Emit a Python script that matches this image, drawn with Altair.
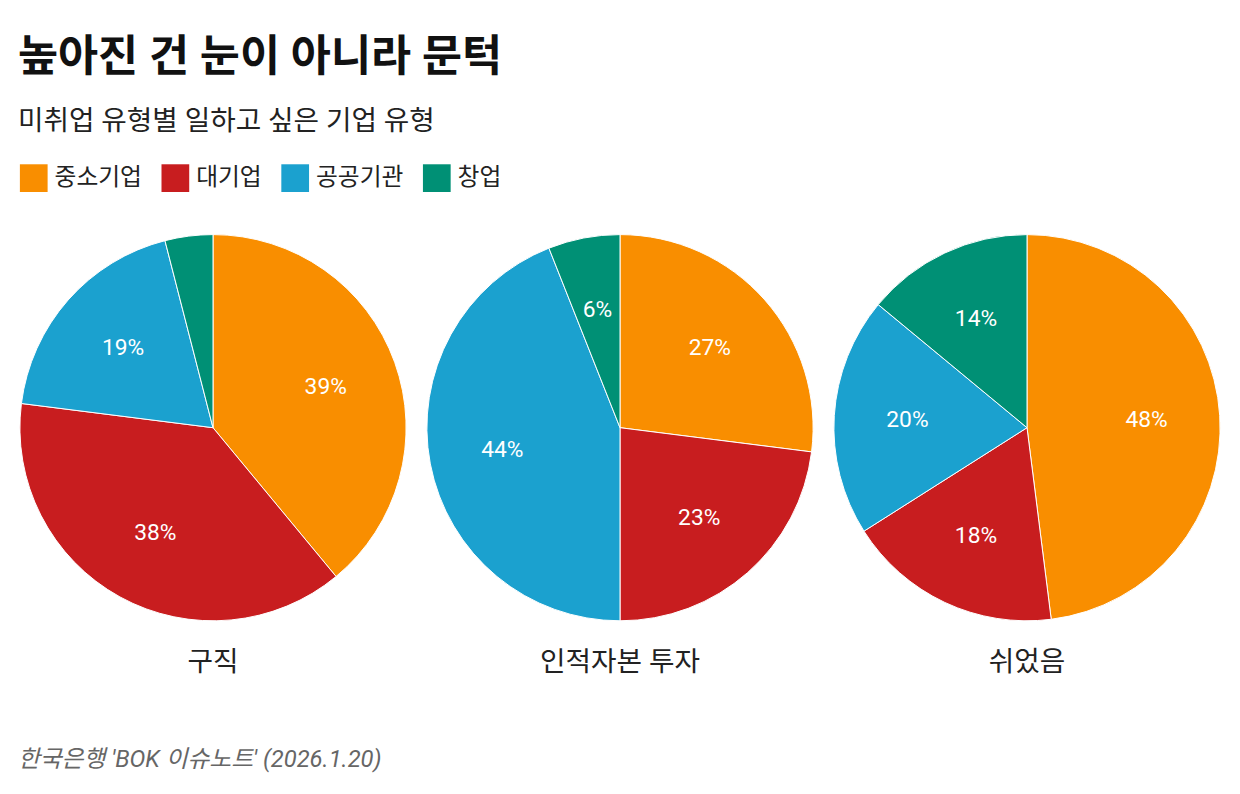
import pandas as pd
import altair as alt

groups = ["구직", "인적자본 투자", "쉬었음"]
types = ["중소기업", "대기업", "공공기관", "창업"]
colors = ["#F98E00", "#C81D1F", "#1BA1CF", "#009075"]
share_job = [39, 38, 19, 4]
share_edu = [27, 23, 44, 6]
share_rest = [48, 18, 20, 14]

rows = []
for g, vals in zip(groups, [share_job, share_edu, share_rest]):
    for i, (t, v) in enumerate(zip(types, vals)):
        # the tiny slice stays unlabeled, as in the original
        rows.append({"group": g, "type": t, "pct": v, "ord": i,
                     "label": f"{v}%" if v >= 5 else ""})
df = pd.DataFrame(rows)

FONT = "Roboto, Noto Sans CJK KR, sans-serif"

base = alt.Chart().encode(
    theta=alt.Theta("pct:Q", stack=True),
    order=alt.Order("ord:Q"),
)
pie = base.mark_arc(stroke="white", strokeWidth=1).encode(
    color=alt.Color("type:N", scale=alt.Scale(domain=types, range=colors),
                    legend=alt.Legend(orient="top", direction="horizontal", title=None,
                                      symbolType="square", symbolSize=784,
                                      symbolStrokeWidth=0, labelFontSize=24,
                                      labelFont=FONT, labelColor="#222",
                                      labelOffset=7, columnPadding=19, offset=41))
)
labels = base.mark_text(radius=121, fontSize=23, color="white", font=FONT).encode(
    text="label:N"
)

chart = alt.layer(pie, labels, data=df).properties(width=390, height=390).facet(
    column=alt.Column("group:N", sort=groups,
                      title="한국은행 'BOK 이슈노트' (2026.1.20)",
                      header=alt.Header(labelOrient="bottom", labelFontSize=28,
                                        labelFont=FONT, labelColor="#222",
                                        labelPadding=27,
                                        titleOrient="bottom", titleAnchor="start",
                                        titleFont=FONT, titleFontSize=24,
                                        titleFontStyle="italic", titleFontWeight="normal",
                                        titleColor="#666", titlePadding=62)),
    spacing=17,
).properties(
    title=alt.Title("높아진 건 눈이 아니라 문턱",
                    subtitle="미취업 유형별 일하고 싶은 기업 유형",
                    anchor="start", font=FONT, fontSize=44, fontWeight="bold",
                    color="#111", subtitleFont=FONT, subtitleFontSize=28,
                    subtitleColor="#222", subtitlePadding=28, offset=29),
    padding={"left": 10, "top": 25, "right": 10, "bottom": 10},
    background="white",
).configure_view(strokeWidth=0)

chart.save("out.html", embed_options={"renderer": "svg", "actions": False})
